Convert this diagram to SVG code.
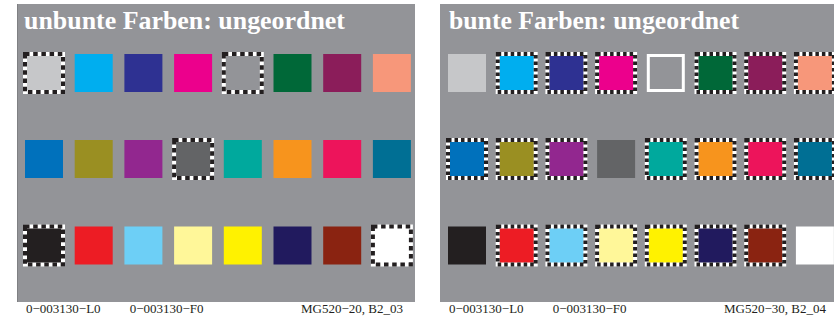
<svg xmlns="http://www.w3.org/2000/svg" width="834" height="320" viewBox="0 0 834 320">
<style>
.panel{fill:#939498}
.title{font-family:"Liberation Serif","Times New Roman",serif;font-weight:bold;font-size:25px;fill:#ffffff}
.lbl{font-family:"Liberation Serif","Times New Roman",serif;font-size:13px;fill:#231f20}
.dw{stroke:#ffffff;stroke-width:4}
.db{fill:none;stroke:#231f20;stroke-width:4;stroke-dasharray:4.5 3.7}
.db2{fill:none;stroke:#231f20;stroke-width:4;stroke-dasharray:3.5 3}
</style>
<rect width="834" height="320" fill="#ffffff"/>
<g id="panel-left">
<rect class="panel" x="17" y="4" width="398" height="298"/>
<line x1="17.5" y1="4" x2="17.5" y2="302" stroke="#7f8083" stroke-width="1"/>
<text class="title" x="24" y="29" textLength="321" lengthAdjust="spacingAndGlyphs">unbunte Farben: ungeordnet</text>
</g>
<g id="panel-right">
<rect class="panel" x="440" y="4" width="394" height="298"/>
<text class="title" x="449" y="29" textLength="290" lengthAdjust="spacingAndGlyphs">bunte Farben: ungeordnet</text>
</g>
<g id="connectors"></g>
<!-- left panel -->
<g id="L-r1">
<g id="L11"><rect x="25" y="54" width="38" height="38" fill="#c6c7c9" class="dw"/><rect x="25" y="54" width="38" height="38" class="db"/></g>
<g id="L12"><rect x="74.7" y="54" width="38" height="38" fill="#00aeef"/></g>
<g id="L13"><rect x="124.4" y="54" width="38" height="38" fill="#2e3192"/></g>
<g id="L14"><rect x="174.1" y="54" width="38" height="38" fill="#ec008c"/></g>
<g id="L15"><rect x="223.8" y="54" width="38" height="38" fill="#939498" class="dw"/><rect x="223.8" y="54" width="38" height="38" class="db"/></g>
<g id="L16"><rect x="273.5" y="54" width="38" height="38" fill="#006838"/></g>
<g id="L17"><rect x="323.2" y="54" width="38" height="38" fill="#8b1d5a"/></g>
<g id="L18"><rect x="372.9" y="54" width="38" height="38" fill="#f7977a"/></g>
</g>
<g id="L-r2">
<g id="L21"><rect x="25" y="140" width="38" height="38" fill="#0071bc"/></g>
<g id="L22"><rect x="74.7" y="140" width="38" height="38" fill="#9a8f22"/></g>
<g id="L23"><rect x="124.4" y="140" width="38" height="38" fill="#92278f"/></g>
<g id="L24"><rect x="174.1" y="140" width="38" height="38" fill="#636466" class="dw"/><rect x="174.1" y="140" width="38" height="38" class="db"/></g>
<g id="L25"><rect x="223.8" y="140" width="38" height="38" fill="#00a99d"/></g>
<g id="L26"><rect x="273.5" y="140" width="38" height="38" fill="#f7941d"/></g>
<g id="L27"><rect x="323.2" y="140" width="38" height="38" fill="#ed145b"/></g>
<g id="L28"><rect x="372.9" y="140" width="38" height="38" fill="#006f94"/></g>
</g>
<g id="L-r3">
<g id="L31"><rect x="25" y="226.5" width="38" height="38" fill="#231f20" class="dw"/><rect x="25" y="226.5" width="38" height="38" class="db"/></g>
<g id="L32"><rect x="74.7" y="226.5" width="38" height="38" fill="#ed1c24"/></g>
<g id="L33"><rect x="124.4" y="226.5" width="38" height="38" fill="#6dcff6"/></g>
<g id="L34"><rect x="174.1" y="226.5" width="38" height="38" fill="#fff799"/></g>
<g id="L35"><rect x="223.8" y="226.5" width="38" height="38" fill="#fff200"/></g>
<g id="L36"><rect x="273.5" y="226.5" width="38" height="38" fill="#211a5e"/></g>
<g id="L37"><rect x="323.2" y="226.5" width="38" height="38" fill="#8a2311"/></g>
<g id="L38"><rect x="372.9" y="226.5" width="38" height="38" fill="#ffffff" class="dw"/><rect x="372.9" y="226.5" width="38" height="38" class="db"/></g>
</g>
<!-- right panel -->
<g id="R-r1">
<g id="R11"><rect x="448" y="54" width="38" height="38" fill="#c6c7c9"/></g>
<g id="R12"><rect x="497.7" y="54" width="38" height="38" fill="#00aeef" class="dw"/><rect x="497.7" y="54" width="38" height="38" class="db2"/></g>
<g id="R13"><rect x="547.4" y="54" width="38" height="38" fill="#2e3192" class="dw"/><rect x="547.4" y="54" width="38" height="38" class="db2"/></g>
<g id="R14"><rect x="597.1" y="54" width="38" height="38" fill="#ec008c" class="dw"/><rect x="597.1" y="54" width="38" height="38" class="db2"/></g>
<g id="R15"><rect x="648.3" y="55.5" width="35" height="35" fill="#939498" stroke="#ffffff" stroke-width="3"/></g>
<g id="R16"><rect x="696.5" y="54" width="38" height="38" fill="#006838" class="dw"/><rect x="696.5" y="54" width="38" height="38" class="db2"/></g>
<g id="R17"><rect x="746.2" y="54" width="38" height="38" fill="#8b1d5a" class="dw"/><rect x="746.2" y="54" width="38" height="38" class="db2"/></g>
<g id="R18"><rect x="795.9" y="54" width="38" height="38" fill="#f7977a" class="dw"/><rect x="795.9" y="54" width="38" height="38" class="db2"/></g>
</g>
<g id="R-r2">
<g id="R21"><rect x="448" y="140" width="38" height="38" fill="#0071bc" class="dw"/><rect x="448" y="140" width="38" height="38" class="db2"/></g>
<g id="R22"><rect x="497.7" y="140" width="38" height="38" fill="#9a8f22" class="dw"/><rect x="497.7" y="140" width="38" height="38" class="db2"/></g>
<g id="R23"><rect x="547.4" y="140" width="38" height="38" fill="#92278f" class="dw"/><rect x="547.4" y="140" width="38" height="38" class="db2"/></g>
<g id="R24"><rect x="597.1" y="140" width="38" height="38" fill="#636466"/></g>
<g id="R25"><rect x="646.8" y="140" width="38" height="38" fill="#00a99d" class="dw"/><rect x="646.8" y="140" width="38" height="38" class="db2"/></g>
<g id="R26"><rect x="696.5" y="140" width="38" height="38" fill="#f7941d" class="dw"/><rect x="696.5" y="140" width="38" height="38" class="db2"/></g>
<g id="R27"><rect x="746.2" y="140" width="38" height="38" fill="#ed145b" class="dw"/><rect x="746.2" y="140" width="38" height="38" class="db2"/></g>
<g id="R28"><rect x="795.9" y="140" width="38" height="38" fill="#006f94" class="dw"/><rect x="795.9" y="140" width="38" height="38" class="db2"/></g>
</g>
<g id="R-r3">
<g id="R31"><rect x="448" y="226.5" width="38" height="38" fill="#231f20"/></g>
<g id="R32"><rect x="497.7" y="226.5" width="38" height="38" fill="#ed1c24" class="dw"/><rect x="497.7" y="226.5" width="38" height="38" class="db2"/></g>
<g id="R33"><rect x="547.4" y="226.5" width="38" height="38" fill="#6dcff6" class="dw"/><rect x="547.4" y="226.5" width="38" height="38" class="db2"/></g>
<g id="R34"><rect x="597.1" y="226.5" width="38" height="38" fill="#fff799" class="dw"/><rect x="597.1" y="226.5" width="38" height="38" class="db2"/></g>
<g id="R35"><rect x="646.8" y="226.5" width="38" height="38" fill="#fff200" class="dw"/><rect x="646.8" y="226.5" width="38" height="38" class="db2"/></g>
<g id="R36"><rect x="696.5" y="226.5" width="38" height="38" fill="#211a5e" class="dw"/><rect x="696.5" y="226.5" width="38" height="38" class="db2"/></g>
<g id="R37"><rect x="746.2" y="226.5" width="38" height="38" fill="#8a2311" class="dw"/><rect x="746.2" y="226.5" width="38" height="38" class="db2"/></g>
<g id="R38"><rect x="795.9" y="226.5" width="38" height="38" fill="#ffffff"/></g>
</g>
<g id="labels">
<text class="lbl" x="26" y="313">0−003130−L0</text>
<text class="lbl" x="129.7" y="313">0−003130−F0</text>
<text class="lbl" x="403" y="313" text-anchor="end">MG520−20, B2_03</text>
<text class="lbl" x="449" y="313">0−003130−L0</text>
<text class="lbl" x="552.7" y="313">0−003130−F0</text>
<text class="lbl" x="826" y="313" text-anchor="end">MG520−30, B2_04</text>
</g>
</svg>
